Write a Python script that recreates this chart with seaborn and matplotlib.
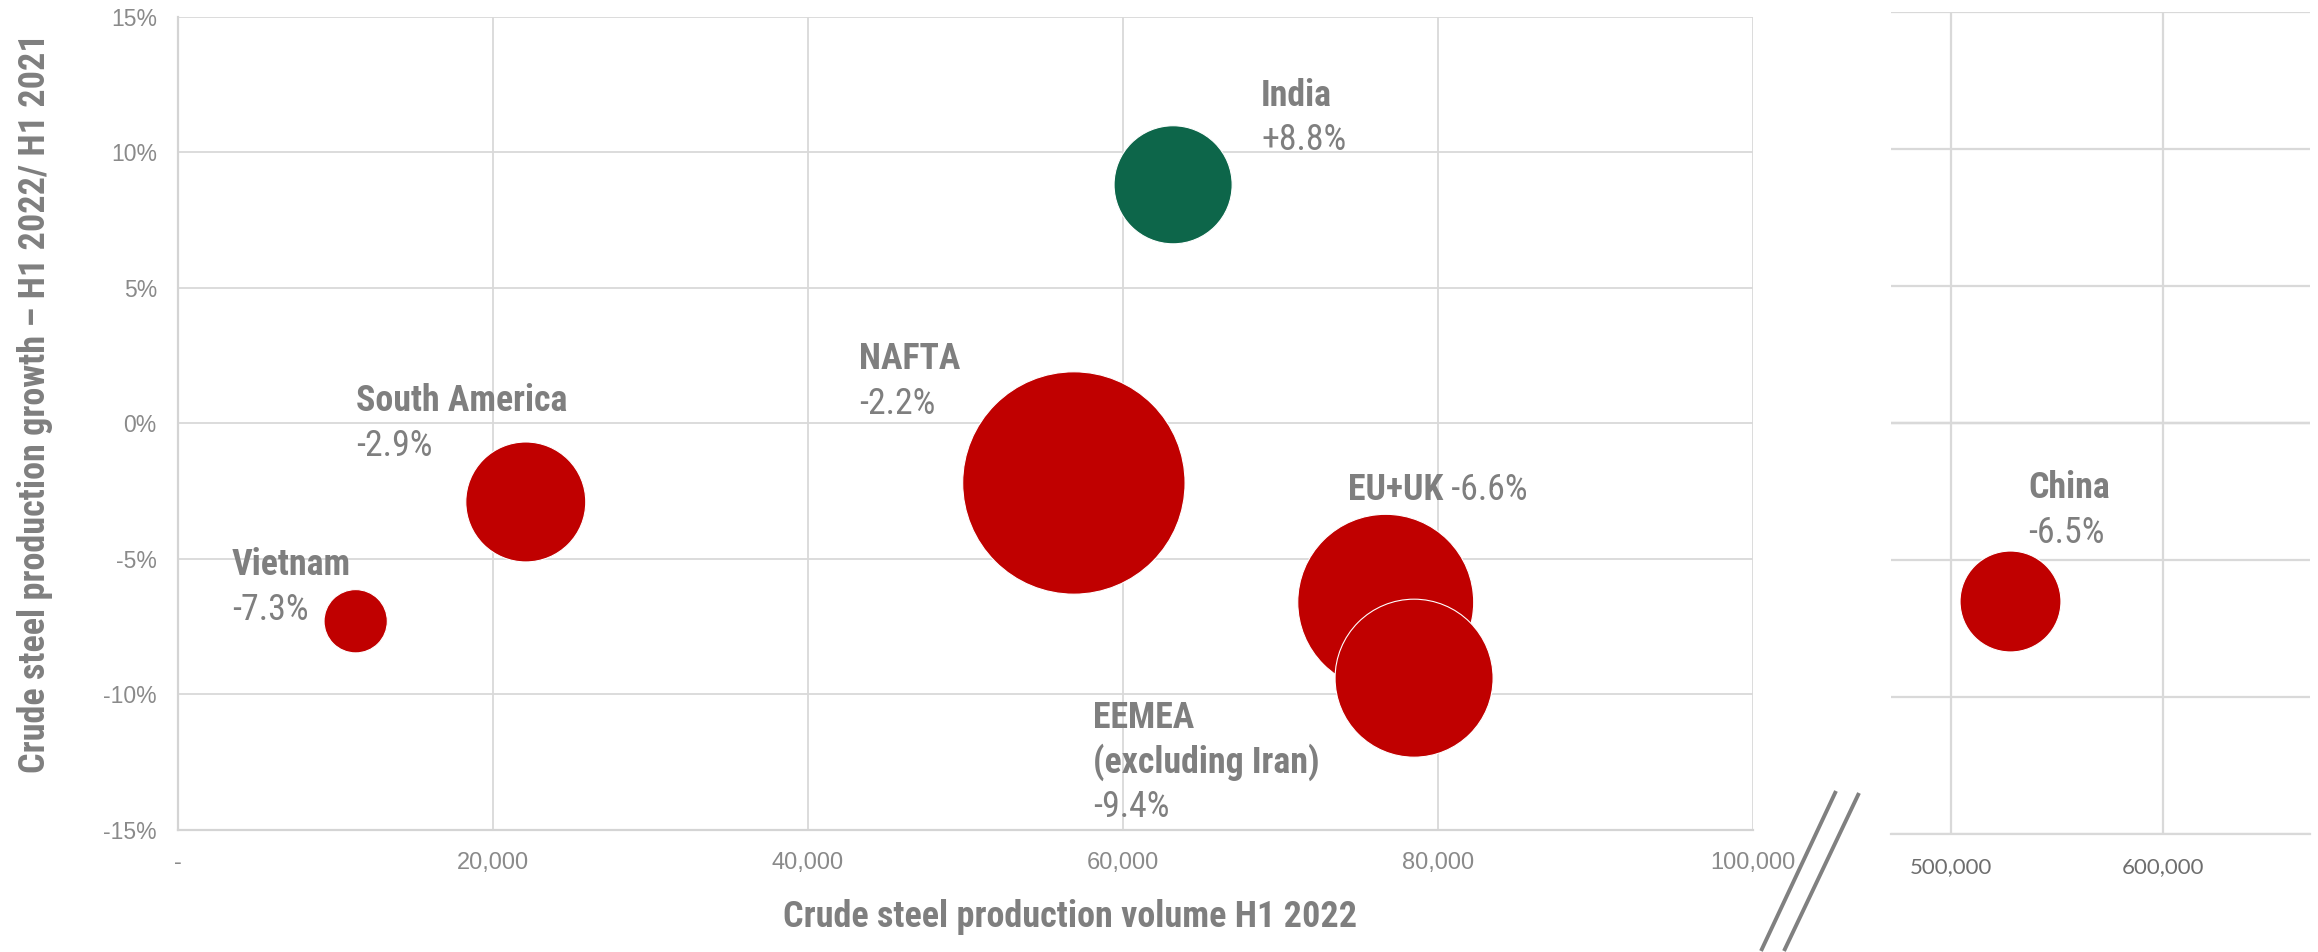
import matplotlib
matplotlib.use("Agg")
import matplotlib.pyplot as plt
from matplotlib import font_manager as fm
from matplotlib.lines import Line2D
from matplotlib.ticker import FixedLocator, FuncFormatter
import numpy as np
import pandas as pd
import seaborn as sns

# ---- data -------------------------------------------------------------
regions = ["Vietnam", "South America", "NAFTA", "India", "EU+UK",
           "EEMEA\n(excluding Iran)", "China"]
volume_kt = [11300, 22100, 56900, 63200, 76700, 78500, 528000]   # crude steel H1 2022
growth_pct = [-7.3, -2.9, -2.2, 8.8, -6.6, -9.4, -6.5]           # H1 2022 / H1 2021
bubble_size = [8.1, 29.1, 100.0, 28.2, 62.6, 50.5, 20.6]          # relative bubble area

y_ticks = [-15, -10, -5, 0, 5, 10, 15]
x_ticks_main = [0, 20000, 40000, 60000, 80000, 100000]
x_ticks_china = [500000, 600000]

# ---- style ------------------------------------------------------------
sns.set_theme(style="white")


def font_available(name):
    try:
        fm.findfont(fm.FontProperties(family=name), fallback_to_default=False)
        return True
    except ValueError:
        return False


# condensed face for labels and titles, with sizes tuned to each face's width
if font_available("Liberation Sans Narrow"):
    LABEL_FAMILY, LABEL_SIZE, TITLE_SIZE = "Liberation Sans Narrow", 26.3, 27.2
elif font_available("Roboto Condensed"):
    LABEL_FAMILY, LABEL_SIZE, TITLE_SIZE = "Roboto Condensed", 25.8, 26.0
elif font_available("Roboto"):
    LABEL_FAMILY, LABEL_SIZE, TITLE_SIZE = "Roboto", 23.0, 23.0
else:
    LABEL_FAMILY, LABEL_SIZE, TITLE_SIZE = "Liberation Sans", 21.6, 22.3
LABEL_FAMILY = [LABEL_FAMILY, "Liberation Sans", "DejaVu Sans"]
plt.rcParams["font.family"] = ["Liberation Sans", "DejaVu Sans"]

TEXT_GREY = "#7F7F7F"
TICK_GREY = "#8A8A8A"
GRID = "#D9D9D9"
RED = "#C00000"
GREEN = "#0D664A"

df = pd.DataFrame({
    "region": regions,
    "volume": volume_kt,
    "growth": growth_pct,
    "bubble": bubble_size,
})
df["direction"] = np.where(df["growth"] > 0, "increase", "decrease")
palette = {"increase": GREEN, "decrease": RED}

# bubble area (points^2) for a relative size of 100
S_MAX = 25632
size_kw = dict(size="bubble", sizes=(0, S_MAX), size_norm=(0, 100),
               hue="direction", palette=palette, legend=False,
               edgecolor="white", linewidth=0.8, alpha=1)

W, H = 2318, 952
fig = plt.figure(figsize=(W / 100, H / 100), dpi=100)
ax = fig.add_axes([177.7 / W, (H - 830) / H, 1575 / W, 813.3 / H])
ax2 = fig.add_axes([1891 / W, (H - 834) / H, 419 / W, 822 / H])

main = df[df["volume"] < 200000]
china = df[df["volume"] >= 200000]

sns.scatterplot(data=main, x="volume", y="growth", ax=ax, **size_kw)
sns.scatterplot(data=china, x="volume", y="growth", ax=ax2, **size_kw)

# ---- main panel axes ----------------------------------------------------
ax.set_xlim(0, 100000)
ax.set_ylim(-15, 15)
ax.xaxis.set_major_locator(FixedLocator(x_ticks_main))
ax.yaxis.set_major_locator(FixedLocator(y_ticks))
ax.xaxis.set_major_formatter(FuncFormatter(lambda v, p: "-" if v == 0 else f"{v:,.0f}"))
ax.yaxis.set_major_formatter(FuncFormatter(lambda v, p: f"{v:.0f}%"))
ax.grid(True, color=GRID, linewidth=1.3)
ax.set_axisbelow(True)
for side in ("top", "right"):
    ax.spines[side].set_visible(False)
for side in ("left", "bottom"):
    ax.spines[side].set_color("#D4D4D4")
    ax.spines[side].set_linewidth(1.6)
ax.tick_params(axis="both", length=0, colors=TICK_GREY)
ax.tick_params(axis="y", pad=15, labelsize=16.5)
ax.tick_params(axis="x", pad=15.5, labelsize=17)
ax.set_xlabel("")
ax.set_ylabel("")

# ---- China panel axes ---------------------------------------------------
ax2.set_xlim(471700, 669300)
ax2.set_ylim(-15, 15)
ax2.xaxis.set_major_locator(FixedLocator(x_ticks_china))
ax2.yaxis.set_major_locator(FixedLocator(y_ticks))
ax2.xaxis.set_major_formatter(FuncFormatter(lambda v, p: f"{v:,.0f}"))
ax2.grid(True, color=GRID, linewidth=1.6)
ax2.set_axisbelow(True)
ax2.axhline(0, color="#BFBFBF", linewidth=1.6, zorder=0.5)
for side in ("top", "right", "left"):
    ax2.spines[side].set_visible(False)
ax2.spines["bottom"].set_color(GRID)
ax2.spines["bottom"].set_linewidth(1.6)
ax2.tick_params(axis="both", length=0)
ax2.tick_params(axis="y", labelleft=False)
ax2.tick_params(axis="x", pad=16.5, labelsize=16, labelcolor="#6E6E6E")
for lbl in ax2.get_xticklabels():
    lbl.set_family(["Lato", "Liberation Sans"])
ax2.set_xlabel("")
ax2.set_ylabel("")

# ---- bubble labels ------------------------------------------------------
# first-line baseline anchor of each label, in data units of its panel
label_pos = {
    "Vietnam": (3450, -5.60),
    "South America": (11320, 0.44),
    "NAFTA": (43260, 1.99),
    "India": (68780, 11.72),
    "EU+UK": (74300, -2.84),
    "EEMEA\n(excluding Iran)": (58100, -11.24),
    "China": (536300, -2.74),
}
LINE_GAP = 32  # points between successive label lines

for _, row in df.iterrows():
    target = ax2 if row["volume"] >= 200000 else ax
    x0, y0 = label_pos[row["region"]]
    value_txt = f"{row['growth']:+.1f}%"
    name_lines = row["region"].split("\n")
    common = dict(xycoords="data", textcoords="offset points", ha="left",
                  va="baseline", color=TEXT_GREY, fontsize=LABEL_SIZE,
                  family=LABEL_FAMILY)
    if row["region"] == "EU+UK":
        name_art = target.annotate(row["region"], xy=(x0, y0), xytext=(0, 0),
                                   fontweight="bold", **common)
        target.annotate(" " + value_txt, xy=(1, 0), xycoords=name_art,
                        ha="left", va="bottom", color=TEXT_GREY,
                        fontsize=LABEL_SIZE, family=LABEL_FAMILY)
        continue
    for i, line in enumerate(name_lines):
        target.annotate(line, xy=(x0, y0), xytext=(0, -i * LINE_GAP),
                        fontweight="bold", **common)
    target.annotate(value_txt, xy=(x0, y0),
                    xytext=(0, -len(name_lines) * LINE_GAP), **common)

# ---- axis titles --------------------------------------------------------
fig.text(1070 / W, (H - 927) / H, "Crude steel production volume H1 2022",
         ha="center", va="baseline", fontsize=TITLE_SIZE, fontweight="bold",
         color=TEXT_GREY, family=LABEL_FAMILY)
fig.text(35 / W, (H - 403.5) / H,
         "Crude steel production growth – H1 2022/ H1 2021",
         ha="center", va="center", rotation=90, fontsize=TITLE_SIZE,
         fontweight="bold", color=TEXT_GREY, family=LABEL_FAMILY)

# ---- axis break marks ---------------------------------------------------
for (xa, ya), (xb, yb) in [((1836, 791), (1761, 951)), ((1859, 793), (1784, 951))]:
    fig.add_artist(Line2D([xa / W, xb / W], [(H - ya) / H, (H - yb) / H],
                          transform=fig.transFigure, color="#808080",
                          linewidth=2.8, solid_capstyle="butt"))

fig.savefig("out.png", dpi=100, facecolor="white")
